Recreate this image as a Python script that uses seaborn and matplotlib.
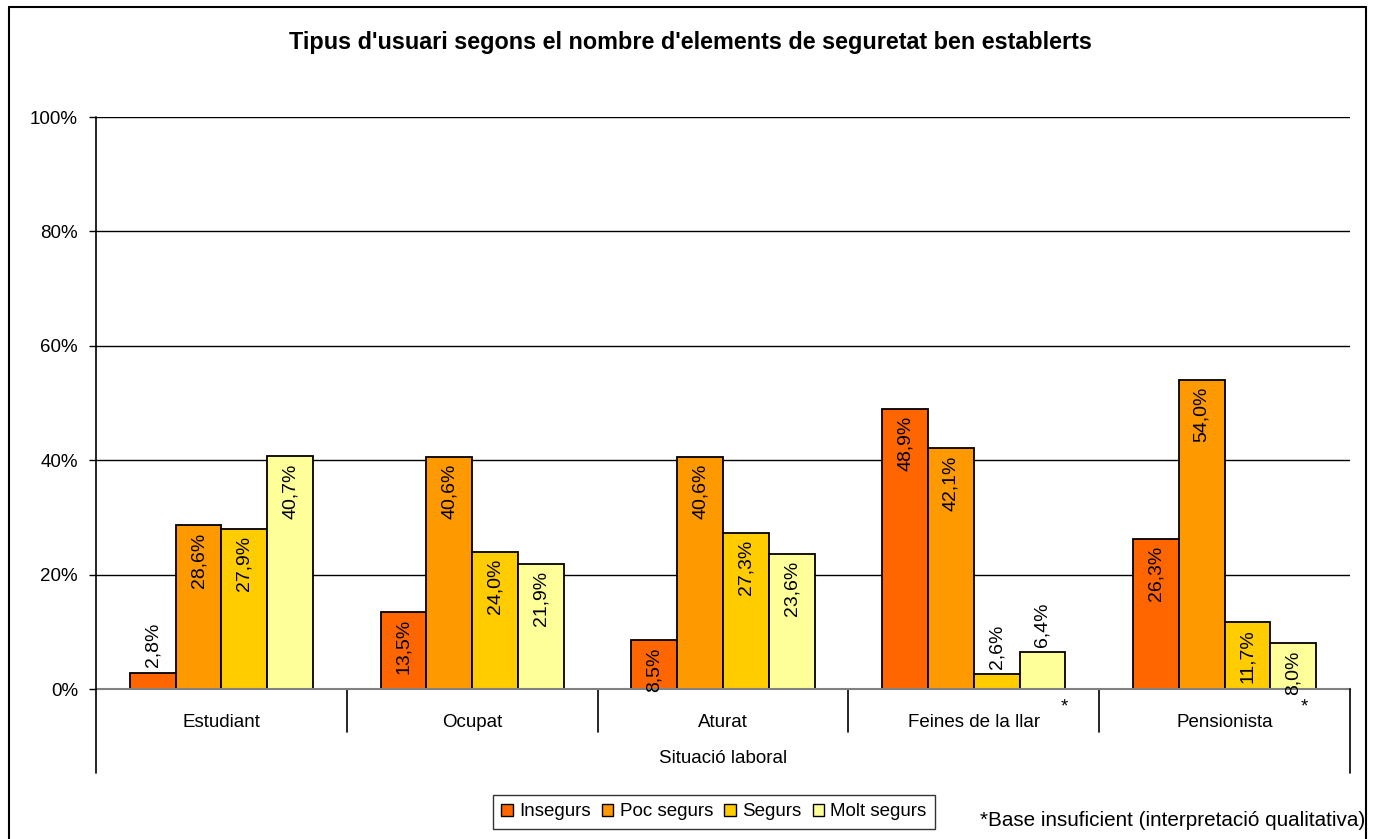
import matplotlib
matplotlib.use("Agg")
import matplotlib.pyplot as plt
from matplotlib.lines import Line2D
import matplotlib.transforms as mtransforms
import seaborn as sns
import pandas as pd

categories = ["Estudiant", "Ocupat", "Aturat", "Feines de la llar", "Pensionista"]
series = ["Insegurs", "Poc segurs", "Segurs", "Molt segurs"]
insegurs = [2.8, 13.5, 8.5, 48.9, 26.3]
poc_segurs = [28.6, 40.6, 40.6, 42.1, 54.0]
segurs = [27.9, 24.0, 27.3, 2.6, 11.7]
molt_segurs = [40.7, 21.9, 23.6, 6.4, 8.0]
yticks = [0, 20, 40, 60, 80, 100]
colors = ["#FF6600", "#FF9900", "#FFCC00", "#FFFF99"]

title = "Tipus d'usuari segons el nombre d'elements de seguretat ben establerts"
xlabel = "Situació laboral"
footnote = "*Base insuficient (interpretació qualitativa)"
starred = ["Feines de la llar", "Pensionista"]

rows = []
for s, vals in zip(series, [insegurs, poc_segurs, segurs, molt_segurs]):
    for c, v in zip(categories, vals):
        rows.append({"cat": c, "serie": s, "val": v})
df = pd.DataFrame(rows)

sns.set_style("white")
plt.rcParams["font.family"] = ["Liberation Sans", "DejaVu Sans"]
plt.rcParams["text.color"] = "black"
plt.rcParams["axes.labelcolor"] = "black"
plt.rcParams["xtick.color"] = "black"
plt.rcParams["ytick.color"] = "black"

W, H = 1379, 839
fig = plt.figure(figsize=(W / 100, H / 100), dpi=100)
ax = fig.add_axes([96 / W, 1 - 689 / H, (1350 - 96) / W, (689 - 117) / H])

sns.barplot(data=df, x="cat", y="val", hue="serie", order=categories,
            hue_order=series, palette=colors, saturation=1, edgecolor="black",
            linewidth=1.3, width=0.73, gap=0, ax=ax, zorder=3)
if ax.get_legend() is not None:
    ax.get_legend().remove()

ax.set_ylim(0, 100)
ax.set_xlim(-0.5, len(categories) - 0.5)
ax.set_yticks(yticks)
ax.set_yticklabels([f"{t}%" for t in yticks], fontsize=13.5)
ax.yaxis.grid(True, color="black", linewidth=1)
ax.set_axisbelow(True)
ax.tick_params(axis="y", length=5, width=1, color="black", pad=8, left=True)
ax.tick_params(axis="x", length=0, pad=18, labelsize=13.5)
ax.set_xlabel("")
ax.set_ylabel("")
for sp in ["top", "right"]:
    ax.spines[sp].set_visible(False)
ax.spines["left"].set_visible(False)
ax.spines["bottom"].set_color("#808080")
ax.spines["bottom"].set_linewidth(1.5)
ax.spines["bottom"].set_zorder(4)

# y axis line extended below, right end line, category separators
trans = mtransforms.blended_transform_factory(ax.transData, ax.transAxes)
ext = (773 - 689) / 572
sep = (732 - 689) / 572
ax.add_line(Line2D([-0.5, -0.5], [1, -ext], transform=trans, color="black",
                   lw=1.2, clip_on=False, zorder=5))
ax.add_line(Line2D([len(categories) - 0.5] * 2, [0, -ext], transform=trans,
                   color="black", lw=1.2, clip_on=False, zorder=5))
for k in range(len(categories) - 1):
    ax.add_line(Line2D([k + 0.5, k + 0.5], [0, -sep], transform=trans,
                       color="black", lw=1.2, clip_on=False))

# data labels
for cont in ax.containers:
    for p in cont:
        h = p.get_height()
        xc = p.get_x() + p.get_width() / 2
        lab = f"{h:.1f}%".replace(".", ",")
        if h >= 7:
            ax.annotate(lab, (xc, h), xytext=(0, -5), textcoords="offset points",
                        rotation=90, ha="center", va="top", fontsize=14, zorder=6)
        else:
            ax.annotate(lab, (xc, h), xytext=(0, 4), textcoords="offset points",
                        rotation=90, ha="center", va="bottom", fontsize=14, zorder=6)

# asterisks for insufficient base
for c, dx in zip(starred, [0.36, 0.32]):
    i = categories.index(c)
    ax.text(i + dx, -0.031, "*", transform=trans, ha="center", va="center", fontsize=13.5)

ax.text(0.5, -0.122, xlabel, transform=ax.transAxes, ha="center", va="center", fontsize=13.5)

fig.text(690 / W, 1 - 43 / H, title, ha="center", va="center", fontsize=16.8, fontweight="bold")

handles = [plt.Rectangle((0, 0), 1, 1, facecolor=c, edgecolor="black", lw=1) for c in colors]
leg = fig.legend(handles, series, loc="center", bbox_to_anchor=(714 / W, 1 - 812 / H),
                 ncol=4, frameon=True, fancybox=False, edgecolor="black", fontsize=13.5,
                 handlelength=0.6, handleheight=0.6, handletextpad=0.35,
                 columnspacing=0.6, borderpad=0.45, borderaxespad=0)
leg.get_frame().set_linewidth(1)

fig.text(980 / W, 1 - 821 / H, footnote, ha="left", va="center", fontsize=14.9)

# outer chart border (left, top, right)
for xs, ys in [([9, 9], [0, H - 7]), ([9, 1366], [H - 7, H - 7]), ([1366, 1366], [H - 7, 0])]:
    fig.add_artist(Line2D([x / W for x in xs], [y / H for y in ys], color="black", lw=1.5))

fig.savefig("out.png", dpi=100)
